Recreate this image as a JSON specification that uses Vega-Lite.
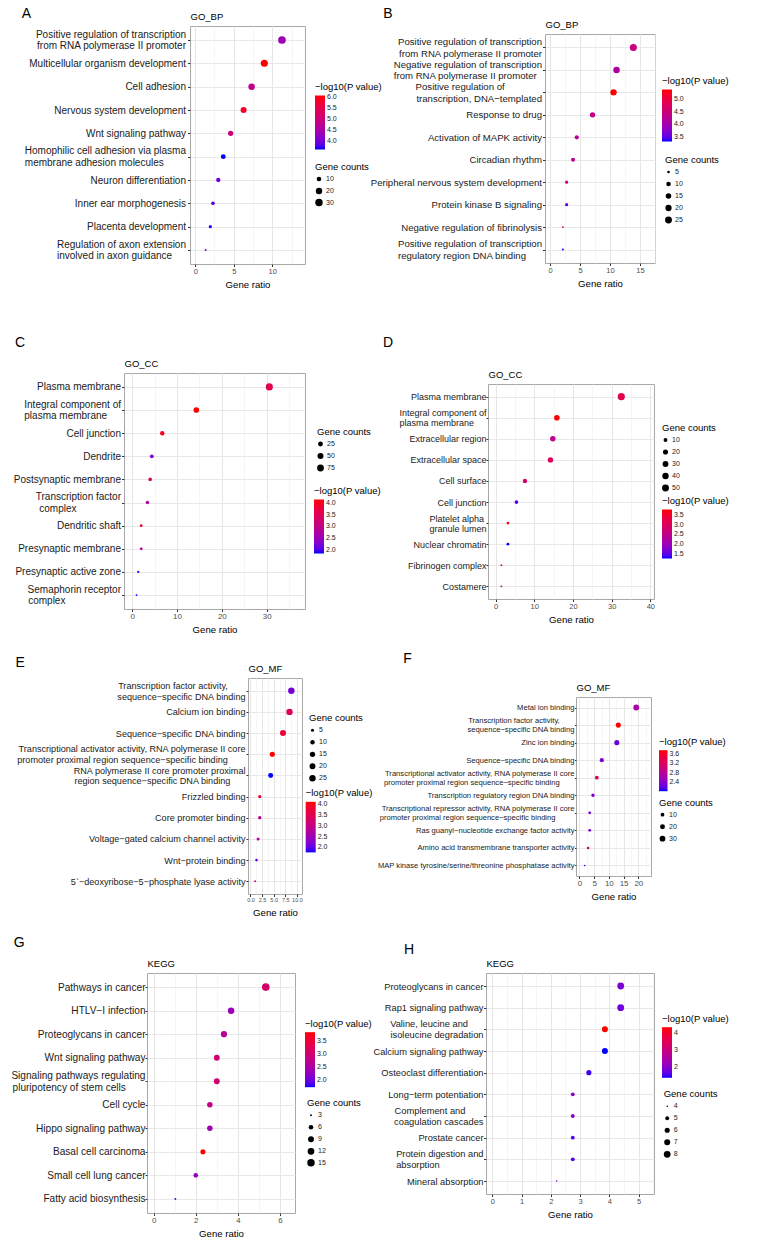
{
"$schema": "https://vega.github.io/schema/vega-lite/v6.json",
"padding": {"left": 0, "top": 6, "right": 0, "bottom": 0},
"spacing": 0,
"bounds": "flush",
"resolve": {"scale": {"color": "independent", "size": "independent", "x": "independent", "y": "independent"}, "legend": {"color": "independent", "size": "independent"}},
"vconcat": [
{
"hconcat": [
{"width": 190, "height": 1, "data": {"values": []}, "mark": "point", "view": {"stroke": null}},
{
"width": 115, "height": 238,
"title": {"text": "A", "offset": -9.5, "dx": -2.6},
"data": {"values": [
{"term": "Positive regulation of transcription\nfrom RNA polymerase II promoter", "ratio": 11.26, "p": 4.35, "count": 33},
{"term": "Multicellular organism development", "ratio": 8.97, "p": 6.05, "count": 26},
{"term": "Cell adhesion", "ratio": 7.32, "p": 4.75, "count": 21},
{"term": "Nervous system development", "ratio": 6.28, "p": 5.8, "count": 18},
{"term": "Wnt signaling pathway", "ratio": 4.6, "p": 5.0, "count": 13},
{"term": "Homophilic cell adhesion via plasma\nmembrane adhesion molecules\u00a0\u00a0\u00a0\u00a0\u00a0\u00a0\u00a0\u00a0\u200b", "ratio": 3.64, "p": 3.6, "count": 11},
{"term": "Neuron differentiation", "ratio": 2.99, "p": 3.9, "count": 9},
{"term": "Inner ear morphogenesis", "ratio": 2.3, "p": 3.8, "count": 7},
{"term": "Placenta development", "ratio": 1.96, "p": 3.65, "count": 6},
{"term": "Regulation of axon extension\ninvolved in axon guidance\u00a0\u00a0\u00a0\u00a0\u00a0\u200b", "ratio": 1.35, "p": 4.0, "count": 4}
]},
"mark": {"type": "circle", "opacity": 1},
"encoding": {
"x": {"field": "ratio", "type": "quantitative", "scale": {"domain": [-0.68, 14.25], "nice": false, "zero": false},
"axis": {"title": "Gene ratio", "values": [0, 2.5, 5, 7.5, 10, 12.5], "labelExpr": "datum.value % 5 === 0 ? format(datum.value, 'd') : ''", "tickOpacity": {"condition": {"test": "datum.value % 5 === 0", "value": 1}, "value": 0}, "gridColor": {"condition": {"test": "datum.value % 5 === 0", "value": "#e3e3e3"}, "value": "#f0f0f0"}, "gridWidth": {"condition": {"test": "datum.value % 5 === 0", "value": 0.9}, "value": 0.6}, "labelFontSize": 7.5}},
"y": {"field": "term", "type": "nominal", "sort": null, "scale": {"type": "point", "padding": 0.6},
"axis": {"title": "GO_BP", "titleX": 0, "titleY": -6.5, "labelExpr": "split(datum.label, '\\n')", "labelOffset": {"condition": {"test": "indexof(datum.value, '\\n') >= 0", "value": -5.85}, "value": 0}, "labelFontSize": 10, "labelLineHeight": 11.7, "labelPadding": 2, "tickSize": 2.5}},
"color": {"field": "p", "type": "quantitative", "scale": {"domain": [3.6, 6.05], "range": ["#0000ff", "#ff0000"], "interpolate": "lab"},
"legend": {"orient": "none", "title": "−log10(P value)", "legendX": 125, "legendY": 56, "values": [4, 4.5, 5, 5.5, 6], "format": ".1f", "gradientLength": 54}},
"size": {"field": "count", "type": "quantitative", "scale": {"type": "sqrt", "domain": [4, 33], "range": [3.8, 59.4], "zero": false},
"legend": {"orient": "none", "title": "Gene counts", "legendX": 125, "legendY": 136, "values": [10, 20, 30], "format": "d"}}
}
},
{"width": 240, "height": 1, "data": {"values": []}, "mark": "point", "view": {"stroke": null}},
{
"vconcat": [
{"width": 1, "height": 8, "data": {"values": []}, "mark": "point", "view": {"stroke": null}},
{
"width": 110, "height": 229,
"title": {"text": "B", "offset": -1.5, "dx": 12.8},
"data": {"values": [
{"term": "Positive regulation of transcription\nfrom RNA polymerase II promoter", "ratio": 13.9, "p": 4.45, "count": 27},
{"term": "Negative regulation of transcription\nfrom RNA polymerase II promoter\u00a0\u00a0\u200b", "ratio": 11.1, "p": 4.1, "count": 22},
{"term": "Positive regulation of\u00a0\u00a0\u00a0\u00a0\u00a0\u00a0\u00a0\u00a0\u00a0\u00a0\u00a0\u00a0\u00a0\u00a0\u200b\ntranscription, DNA−templated", "ratio": 10.6, "p": 5.38, "count": 21},
{"term": "Response to drug", "ratio": 7.1, "p": 4.4, "count": 14},
{"term": "Activation of MAPK activity", "ratio": 4.47, "p": 4.2, "count": 9},
{"term": "Circadian rhythm", "ratio": 3.85, "p": 4.25, "count": 8},
{"term": "Peripheral nervous system development", "ratio": 2.78, "p": 4.4, "count": 6},
{"term": "Protein kinase B signaling", "ratio": 2.78, "p": 3.5, "count": 6},
{"term": "Negative regulation of fibrinolysis", "ratio": 2.15, "p": 4.5, "count": 4},
{"term": "Positive regulation of transcription\nregulatory region DNA binding\u00a0\u00a0\u00a0\u00a0\u00a0\u00a0\u200b", "ratio": 2.15, "p": 3.3, "count": 4}
]},
"mark": {"type": "circle", "opacity": 1},
"encoding": {
"x": {"field": "ratio", "type": "quantitative", "scale": {"domain": [-0.83, 17.51], "nice": false, "zero": false},
"axis": {"title": "Gene ratio", "values": [0, 2.5, 5, 7.5, 10, 12.5, 15, 17.5], "labelExpr": "datum.value % 5 === 0 ? format(datum.value, 'd') : ''", "tickOpacity": {"condition": {"test": "datum.value % 5 === 0", "value": 1}, "value": 0}, "gridColor": {"condition": {"test": "datum.value % 5 === 0", "value": "#e3e3e3"}, "value": "#f0f0f0"}, "gridWidth": {"condition": {"test": "datum.value % 5 === 0", "value": 0.9}, "value": 0.6}, "labelFontSize": 7.5}},
"y": {"field": "term", "type": "nominal", "sort": null, "scale": {"type": "point", "padding": 0.6},
"axis": {"title": "GO_BP", "titleX": 0, "titleY": -6.5, "labelExpr": "split(datum.label, '\\n')", "labelOffset": {"condition": {"test": "indexof(datum.value, '\\n') >= 0", "value": -5.85}, "value": 0}, "labelFontSize": 9.6, "labelLineHeight": 11.7, "labelPadding": 1, "tickSize": 2.5}},
"color": {"field": "p", "type": "quantitative", "scale": {"domain": [3.3, 5.38], "range": ["#0000ff", "#ff0000"], "interpolate": "lab"},
"legend": {"orient": "none", "title": "−log10(P value)", "legendX": 117, "legendY": 42, "values": [3.5, 4, 4.5, 5], "format": ".1f", "gradientLength": 52}},
"size": {"field": "count", "type": "quantitative", "scale": {"type": "sqrt", "domain": [4, 27], "range": [3.5, 50], "zero": false},
"legend": {"orient": "none", "title": "Gene counts", "legendX": 120, "legendY": 121, "values": [5, 10, 15, 20, 25], "format": "d"}}
}
}
],
"spacing": 0, "bounds": "flush",
"resolve": {"scale": {"color": "independent", "size": "independent", "x": "independent", "y": "independent"}, "legend": {"color": "independent", "size": "independent"}}
}
],
"spacing": 0, "bounds": "flush",
"resolve": {"scale": {"color": "independent", "size": "independent", "x": "independent", "y": "independent"}, "legend": {"color": "independent", "size": "independent"}}
},
{"width": 1, "height": 347, "data": {"values": []}, "mark": "point", "view": {"stroke": null}},
{
"hconcat": [
{"width": 124, "height": 1, "data": {"values": []}, "mark": "point", "view": {"stroke": null}},
{
"width": 181, "height": 236,
"title": {"text": "C", "offset": 8.5, "dx": 1.8},
"data": {"values": [
{"term": "Plasma membrane", "ratio": 30.6, "p": 3.55, "count": 86},
{"term": "Integral component of\nplasma membrane\u00a0\u00a0\u00a0\u00a0\u00a0\u200b", "ratio": 14.3, "p": 4.15, "count": 40},
{"term": "Cell junction", "ratio": 6.7, "p": 3.95, "count": 19},
{"term": "Dendrite", "ratio": 4.37, "p": 2.2, "count": 12},
{"term": "Postsynaptic membrane", "ratio": 4.0, "p": 3.4, "count": 11},
{"term": "Transcription factor\ncomplex\u00a0\u00a0\u00a0\u00a0\u00a0\u00a0\u00a0\u00a0\u00a0\u00a0\u00a0\u00a0\u00a0\u00a0\u00a0\u00a0\u200b", "ratio": 3.4, "p": 2.8, "count": 10},
{"term": "Dendritic shaft", "ratio": 2.0, "p": 3.85, "count": 6},
{"term": "Presynaptic membrane", "ratio": 2.0, "p": 2.8, "count": 6},
{"term": "Presynaptic active zone", "ratio": 1.34, "p": 1.9, "count": 4},
{"term": "Semaphorin receptor\ncomplex\u00a0\u00a0\u00a0\u00a0\u00a0\u00a0\u00a0\u00a0\u00a0\u00a0\u00a0\u00a0\u00a0\u00a0\u00a0\u00a0\u00a0\u00a0\u00a0\u00a0\u200b", "ratio": 0.96, "p": 1.83, "count": 3}
]},
"mark": {"type": "circle", "opacity": 1},
"encoding": {
"x": {"field": "ratio", "type": "quantitative", "scale": {"domain": [-1.84, 38.56], "nice": false, "zero": false},
"axis": {"title": "Gene ratio", "values": [0, 5, 10, 15, 20, 25, 30, 35], "labelExpr": "datum.value % 10 === 0 ? format(datum.value, 'd') : ''", "tickOpacity": {"condition": {"test": "datum.value % 10 === 0", "value": 1}, "value": 0}, "gridColor": {"condition": {"test": "datum.value % 10 === 0", "value": "#e3e3e3"}, "value": "#f0f0f0"}, "gridWidth": {"condition": {"test": "datum.value % 10 === 0", "value": 0.9}, "value": 0.6}, "labelFontSize": 8}},
"y": {"field": "term", "type": "nominal", "sort": null, "scale": {"type": "point", "padding": 0.6},
"axis": {"title": "GO_CC", "titleX": 0, "titleY": -6.5, "labelExpr": "split(datum.label, '\\n')", "labelOffset": {"condition": {"test": "indexof(datum.value, '\\n') >= 0", "value": -5.85}, "value": 0}, "labelFontSize": 10, "labelLineHeight": 11.7, "labelPadding": 1, "tickSize": 2.5}},
"color": {"field": "p", "type": "quantitative", "scale": {"domain": [1.83, 4.15], "range": ["#0000ff", "#ff0000"], "interpolate": "lab"},
"legend": {"orient": "none", "title": "−log10(P value)", "legendX": 190, "legendY": 113, "values": [2, 2.5, 3, 3.5, 4], "format": ".1f", "gradientLength": 54}},
"size": {"field": "count", "type": "quantitative", "scale": {"type": "sqrt", "domain": [3, 86], "range": [3.5, 50], "zero": false},
"legend": {"orient": "none", "title": "Gene counts", "legendX": 193, "legendY": 54, "values": [25, 50, 75], "format": "d"}}
}
},
{"width": 183, "height": 1, "data": {"values": []}, "mark": "point", "view": {"stroke": null}},
{
"vconcat": [
{"width": 1, "height": 11, "data": {"values": []}, "mark": "point", "view": {"stroke": null}},
{
"width": 166, "height": 215,
"title": {"text": "D", "offset": 19.5, "dx": -16},
"data": {"values": [
{"term": "Plasma membrane", "ratio": 32.5, "p": 3.2, "count": 55},
{"term": "Integral component of\nplasma membrane\u00a0\u00a0\u00a0\u00a0\u00a0\u200b", "ratio": 15.85, "p": 3.8, "count": 27},
{"term": "Extracellular region", "ratio": 14.8, "p": 2.5, "count": 25},
{"term": "Extracellular space", "ratio": 14.2, "p": 3.05, "count": 24},
{"term": "Cell surface", "ratio": 7.6, "p": 2.85, "count": 13},
{"term": "Cell junction", "ratio": 5.4, "p": 1.45, "count": 9},
{"term": "Platelet alpha\u00a0\u200b\ngranule lumen", "ratio": 3.2, "p": 3.7, "count": 5},
{"term": "Nuclear chromatin", "ratio": 3.2, "p": 1.25, "count": 5},
{"term": "Fibrinogen complex", "ratio": 1.5, "p": 2.9, "count": 3},
{"term": "Costamere", "ratio": 1.5, "p": 2.3, "count": 3}
]},
"mark": {"type": "circle", "opacity": 1},
"encoding": {
"x": {"field": "ratio", "type": "quantitative", "scale": {"domain": [-1.95, 40.95], "nice": false, "zero": false},
"axis": {"title": "Gene ratio", "values": [0, 5, 10, 15, 20, 25, 30, 35, 40], "labelExpr": "datum.value % 10 === 0 ? format(datum.value, 'd') : ''", "tickOpacity": {"condition": {"test": "datum.value % 10 === 0", "value": 1}, "value": 0}, "gridColor": {"condition": {"test": "datum.value % 10 === 0", "value": "#e3e3e3"}, "value": "#f0f0f0"}, "gridWidth": {"condition": {"test": "datum.value % 10 === 0", "value": 0.9}, "value": 0.6}, "labelFontSize": 7.5}},
"y": {"field": "term", "type": "nominal", "sort": null, "scale": {"type": "point", "padding": 0.6},
"axis": {"title": "GO_CC", "titleX": 0, "titleY": -6.5, "labelExpr": "split(datum.label, '\\n')", "labelOffset": {"condition": {"test": "indexof(datum.value, '\\n') >= 0", "value": -5}, "value": 0}, "labelFontSize": 9, "labelLineHeight": 10, "labelPadding": 0, "tickSize": 2}},
"color": {"field": "p", "type": "quantitative", "scale": {"domain": [1.25, 3.8], "range": ["#0000ff", "#ff0000"], "interpolate": "lab"},
"legend": {"orient": "none", "title": "−log10(P value)", "legendX": 174, "legendY": 112, "values": [1.5, 2, 2.5, 3, 3.5], "format": ".1f", "gradientLength": 49}},
"size": {"field": "count", "type": "quantitative", "scale": {"type": "sqrt", "domain": [3, 55], "range": [3.5, 50], "zero": false},
"legend": {"orient": "none", "title": "Gene counts", "legendX": 174, "legendY": 39, "values": [10, 20, 30, 40, 50], "format": "d"}}
}
}
],
"spacing": 0, "bounds": "flush",
"resolve": {"scale": {"color": "independent", "size": "independent", "x": "independent", "y": "independent"}, "legend": {"color": "independent", "size": "independent"}}
}
],
"spacing": 0, "bounds": "flush",
"resolve": {"scale": {"color": "independent", "size": "independent", "x": "independent", "y": "independent"}, "legend": {"color": "independent", "size": "independent"}}
},
{"width": 1, "height": 305, "data": {"values": []}, "mark": "point", "view": {"stroke": null}},
{
"hconcat": [
{"width": 248, "height": 1, "data": {"values": []}, "mark": "point", "view": {"stroke": null}},
{
"width": 54, "height": 216,
"title": {"text": "E", "offset": -6.5, "dx": -1.4},
"data": {"values": [
{"term": "Transcription factor activity,\u00a0\u00a0\u00a0\u00a0\u00a0\u00a0\u00a0\u200b\nsequence−specific DNA binding", "ratio": 8.8, "p": 2.15, "count": 26},
{"term": "Calcium ion binding", "ratio": 8.4, "p": 3.45, "count": 25},
{"term": "Sequence−specific DNA binding", "ratio": 7.0, "p": 3.75, "count": 21},
{"term": "Transcriptional activator activity, RNA polymerase II core\npromoter proximal region sequence−specific binding\u00a0\u00a0\u00a0\u00a0\u00a0\u00a0\u00a0\u200b", "ratio": 4.7, "p": 4.12, "count": 14},
{"term": "RNA polymerase II core promoter proximal\nregion sequence−specific DNA binding\u00a0\u00a0\u00a0\u00a0\u00a0\u00a0\u200b", "ratio": 4.35, "p": 1.77, "count": 13},
{"term": "Frizzled binding", "ratio": 2.0, "p": 3.75, "count": 6},
{"term": "Core promoter binding", "ratio": 2.0, "p": 2.75, "count": 6},
{"term": "Voltage−gated calcium channel activity", "ratio": 1.65, "p": 2.8, "count": 5},
{"term": "Wnt−protein binding", "ratio": 1.3, "p": 1.95, "count": 4},
{"term": "5`−deoxyribose−5−phosphate lyase activity", "ratio": 1.0, "p": 3.05, "count": 3}
]},
"mark": {"type": "circle", "opacity": 1},
"encoding": {
"x": {"field": "ratio", "type": "quantitative", "scale": {"domain": [-0.53, 11.09], "nice": false, "zero": false},
"axis": {"title": "Gene ratio", "values": [0, 1.25, 2.5, 3.75, 5, 6.25, 7.5, 8.75, 10], "labelExpr": "datum.value % 2.5 === 0 ? format(datum.value, '.1f') : ''", "tickOpacity": {"condition": {"test": "datum.value % 2.5 === 0", "value": 1}, "value": 0}, "gridColor": {"condition": {"test": "datum.value % 2.5 === 0", "value": "#e3e3e3"}, "value": "#f0f0f0"}, "gridWidth": {"condition": {"test": "datum.value % 2.5 === 0", "value": 0.9}, "value": 0.6}, "labelFontSize": 5.5}},
"y": {"field": "term", "type": "nominal", "sort": null, "scale": {"type": "point", "padding": 0.6},
"axis": {"title": "GO_MF", "titleX": 0, "titleY": -6.5, "labelExpr": "split(datum.label, '\\n')", "labelOffset": {"condition": {"test": "indexof(datum.value, '\\n') >= 0", "value": -5.35}, "value": 0}, "labelFontSize": 9.1, "labelLineHeight": 10.7, "labelPadding": 1, "tickSize": 2}},
"color": {"field": "p", "type": "quantitative", "scale": {"domain": [1.77, 4.12], "range": ["#0000ff", "#ff0000"], "interpolate": "lab"},
"legend": {"orient": "none", "title": "−log10(P value)", "legendX": 57.7, "legendY": 110.3, "values": [2, 2.5, 3, 3.5, 4], "format": ".1f", "gradientLength": 50.6}},
"size": {"field": "count", "type": "quantitative", "scale": {"type": "sqrt", "domain": [3, 26], "range": [3.5, 42], "zero": false},
"legend": {"orient": "none", "title": "Gene counts", "legendX": 61, "legendY": 35.3, "values": [5, 10, 15, 20, 25], "format": "d"}}
}
},
{"width": 274, "height": 1, "data": {"values": []}, "mark": "point", "view": {"stroke": null}},
{
"vconcat": [
{"width": 1, "height": 19, "data": {"values": []}, "mark": "point", "view": {"stroke": null}},
{
"width": 75, "height": 179,
"title": {"text": "F", "offset": 16.8, "dx": 26},
"data": {"values": [
{"term": "Metal ion binding", "ratio": 19.3, "p": 2.65, "count": 33},
{"term": "Transcription factor activity,\u00a0\u00a0\u00a0\u00a0\u00a0\u00a0\u00a0\u200b\nsequence−specific DNA binding", "ratio": 13.2, "p": 3.76, "count": 22},
{"term": "Zinc ion binding", "ratio": 12.7, "p": 2.2, "count": 21},
{"term": "Sequence−specific DNA binding", "ratio": 7.6, "p": 2.3, "count": 13},
{"term": "Transcriptional activator activity, RNA polymerase II core\npromoter proximal region sequence−specific binding\u00a0\u00a0\u00a0\u00a0\u00a0\u00a0\u00a0\u200b", "ratio": 5.9, "p": 3.35, "count": 10},
{"term": "Transcription regulatory region DNA binding", "ratio": 4.6, "p": 2.3, "count": 8},
{"term": "Transcriptional repressor activity, RNA polymerase II core\npromoter proximal region sequence−specific binding\u00a0\u00a0\u00a0\u00a0\u00a0\u00a0\u00a0\u00a0\u00a0\u200b", "ratio": 3.5, "p": 2.3, "count": 6},
{"term": "Ras guanyl−nucleotide exchange factor activity", "ratio": 3.5, "p": 2.3, "count": 6},
{"term": "Amino acid transmembrane transporter activity", "ratio": 2.95, "p": 3.0, "count": 5},
{"term": "MAP kinase tyrosine/serine/threonine phosphatase activity", "ratio": 1.8, "p": 2.0, "count": 3}
]},
"mark": {"type": "circle", "opacity": 1},
"encoding": {
"x": {"field": "ratio", "type": "quantitative", "scale": {"domain": [-1.16, 24.3], "nice": false, "zero": false},
"axis": {"title": "Gene ratio", "values": [0, 2.5, 5, 7.5, 10, 12.5, 15, 17.5, 20, 22.5], "labelExpr": "datum.value % 5 === 0 ? format(datum.value, 'd') : ''", "tickOpacity": {"condition": {"test": "datum.value % 5 === 0", "value": 1}, "value": 0}, "gridColor": {"condition": {"test": "datum.value % 5 === 0", "value": "#e3e3e3"}, "value": "#f0f0f0"}, "gridWidth": {"condition": {"test": "datum.value % 5 === 0", "value": 0.9}, "value": 0.6}, "labelFontSize": 8}},
"y": {"field": "term", "type": "nominal", "sort": null, "scale": {"type": "point", "padding": 0.6},
"axis": {"title": "GO_MF", "titleX": 0, "titleY": -6.5, "labelExpr": "split(datum.label, '\\n')", "labelOffset": {"condition": {"test": "indexof(datum.value, '\\n') >= 0", "value": -4.5}, "value": 0}, "labelFontSize": 7.6, "labelLineHeight": 9, "labelPadding": 0.5, "tickSize": 1.5}},
"color": {"field": "p", "type": "quantitative", "scale": {"domain": [2.0, 3.76], "range": ["#0000ff", "#ff0000"], "interpolate": "lab"},
"legend": {"orient": "none", "title": "−log10(P value)", "legendX": 83, "legendY": 39.7, "values": [2.4, 2.8, 3.2, 3.6], "format": ".1f", "gradientLength": 41, "gradientThickness": 8.5}},
"size": {"field": "count", "type": "quantitative", "scale": {"type": "sqrt", "domain": [3, 33], "range": [2.5, 35], "zero": false},
"legend": {"orient": "none", "title": "Gene counts", "legendX": 83, "legendY": 100.7, "values": [10, 20, 30], "format": "d"}}
}
}
],
"spacing": 0, "bounds": "flush",
"resolve": {"scale": {"color": "independent", "size": "independent", "x": "independent", "y": "independent"}, "legend": {"color": "independent", "size": "independent"}}
}
],
"spacing": 0, "bounds": "flush",
"resolve": {"scale": {"color": "independent", "size": "independent", "x": "independent", "y": "independent"}, "legend": {"color": "independent", "size": "independent"}}
},
{"width": 1, "height": 295, "data": {"values": []}, "mark": "point", "view": {"stroke": null}},
{
"hconcat": [
{"width": 147, "height": 1, "data": {"values": []}, "mark": "point", "view": {"stroke": null}},
{
"width": 148, "height": 240,
"title": {"text": "G", "offset": 8.5, "dx": 2.8},
"data": {"values": [
{"term": "Pathways in cancer", "ratio": 5.33, "p": 3.05, "count": 16},
{"term": "HTLV−I infection", "ratio": 3.68, "p": 2.35, "count": 11},
{"term": "Proteoglycans in cancer", "ratio": 3.34, "p": 2.65, "count": 10},
{"term": "Wnt signaling pathway", "ratio": 3.0, "p": 3.0, "count": 9},
{"term": "Signaling pathways regulating\npluripotency of stem cells\u00a0\u00a0\u00a0\u00a0\u00a0\u00a0\u00a0\u200b", "ratio": 3.0, "p": 3.0, "count": 9},
{"term": "Cell cycle", "ratio": 2.67, "p": 2.8, "count": 8},
{"term": "Hippo signaling pathway", "ratio": 2.67, "p": 2.4, "count": 8},
{"term": "Basal cell carcinoma", "ratio": 2.34, "p": 3.84, "count": 7},
{"term": "Small cell lung cancer", "ratio": 2.0, "p": 2.3, "count": 6},
{"term": "Fatty acid biosynthesis", "ratio": 1.03, "p": 1.74, "count": 3}
]},
"mark": {"type": "circle", "opacity": 1},
"encoding": {
"x": {"field": "ratio", "type": "quantitative", "scale": {"domain": [-0.32, 6.72], "nice": false, "zero": false},
"axis": {"title": "Gene ratio", "values": [0, 1, 2, 3, 4, 5, 6], "labelExpr": "datum.value % 2 === 0 ? format(datum.value, 'd') : ''", "tickOpacity": {"condition": {"test": "datum.value % 2 === 0", "value": 1}, "value": 0}, "gridColor": {"condition": {"test": "datum.value % 2 === 0", "value": "#e3e3e3"}, "value": "#f0f0f0"}, "gridWidth": {"condition": {"test": "datum.value % 2 === 0", "value": 0.9}, "value": 0.6}, "labelFontSize": 7.8}},
"y": {"field": "term", "type": "nominal", "sort": null, "scale": {"type": "point", "padding": 0.6},
"axis": {"title": "KEGG", "titleX": 0, "titleY": -6.5, "labelExpr": "split(datum.label, '\\n')", "labelOffset": {"condition": {"test": "indexof(datum.value, '\\n') >= 0", "value": -6}, "value": 0}, "labelFontSize": 10.1, "labelLineHeight": 12, "labelPadding": 0, "tickSize": 2}},
"color": {"field": "p", "type": "quantitative", "scale": {"domain": [1.74, 3.84], "range": ["#0000ff", "#ff0000"], "interpolate": "lab"},
"legend": {"orient": "none", "title": "−log10(P value)", "legendX": 158, "legendY": 45.7, "values": [2, 2.5, 3, 3.5], "format": ".1f", "gradientLength": 55}},
"size": {"field": "count", "type": "quantitative", "scale": {"type": "sqrt", "domain": [3, 16], "range": [3.5, 59], "zero": false},
"legend": {"orient": "none", "title": "Gene counts", "legendX": 160, "legendY": 125.3, "values": [3, 6, 9, 12, 15], "format": "d"}}
}
},
{"width": 191, "height": 1, "data": {"values": []}, "mark": "point", "view": {"stroke": null}},
{
"width": 168, "height": 221,
"title": {"text": "H", "offset": 1.8, "dx": 31},
"data": {"values": [
{"term": "Proteoglycans in cancer", "ratio": 4.39, "p": 1.9, "count": 8},
{"term": "Rap1 signaling pathway", "ratio": 4.39, "p": 1.8, "count": 8},
{"term": "Valine, leucine and\u00a0\u00a0\u00a0\u00a0\u00a0\u00a0\u200b\nisoleucine degradation", "ratio": 3.85, "p": 4.35, "count": 7},
{"term": "Calcium signaling pathway", "ratio": 3.85, "p": 1.38, "count": 7},
{"term": "Osteoclast differentiation", "ratio": 3.3, "p": 1.5, "count": 6},
{"term": "Long−term potentiation", "ratio": 2.75, "p": 2.05, "count": 5},
{"term": "Complement and\u00a0\u00a0\u00a0\u00a0\u00a0\u00a0\u00a0\u200b\ncoagulation cascades", "ratio": 2.75, "p": 2.05, "count": 5},
{"term": "Prostate cancer", "ratio": 2.75, "p": 1.6, "count": 5},
{"term": "Protein digestion and\nabsorption\u00a0\u00a0\u00a0\u00a0\u00a0\u00a0\u00a0\u00a0\u00a0\u00a0\u00a0\u00a0\u00a0\u00a0\u00a0\u00a0\u00a0\u200b", "ratio": 2.75, "p": 1.6, "count": 5},
{"term": "Mineral absorption", "ratio": 2.2, "p": 2.0, "count": 4}
]},
"mark": {"type": "circle", "opacity": 1},
"encoding": {
"x": {"field": "ratio", "type": "quantitative", "scale": {"domain": [-0.22, 5.53], "nice": false, "zero": false},
"axis": {"title": "Gene ratio", "values": [0, 0.5, 1, 1.5, 2, 2.5, 3, 3.5, 4, 4.5, 5, 5.5], "labelExpr": "datum.value % 1 === 0 ? format(datum.value, 'd') : ''", "tickOpacity": {"condition": {"test": "datum.value % 1 === 0", "value": 1}, "value": 0}, "gridColor": {"condition": {"test": "datum.value % 1 === 0", "value": "#e3e3e3"}, "value": "#f0f0f0"}, "gridWidth": {"condition": {"test": "datum.value % 1 === 0", "value": 0.9}, "value": 0.6}, "labelFontSize": 7.5}},
"y": {"field": "term", "type": "nominal", "sort": null, "scale": {"type": "point", "padding": 0.6},
"axis": {"title": "KEGG", "titleX": 0, "titleY": -6.5, "labelExpr": "split(datum.label, '\\n')", "labelOffset": {"condition": {"test": "indexof(datum.value, '\\n') >= 0", "value": -5.5}, "value": 0}, "labelFontSize": 9.3, "labelLineHeight": 11, "labelPadding": 0.5, "tickSize": 2.5}},
"color": {"field": "p", "type": "quantitative", "scale": {"domain": [1.38, 4.35], "range": ["#0000ff", "#ff0000"], "interpolate": "lab"},
"legend": {"orient": "none", "title": "−log10(P value)", "legendX": 176, "legendY": 40.7, "values": [2, 3, 4], "format": "d", "gradientLength": 50.6}},
"size": {"field": "count", "type": "quantitative", "scale": {"type": "sqrt", "domain": [4, 8], "range": [2.5, 46], "zero": false},
"legend": {"orient": "none", "title": "Gene counts", "legendX": 177.7, "legendY": 116.3, "values": [4, 5, 6, 7, 8], "format": "d"}}
}
}
],
"spacing": 0, "bounds": "flush",
"resolve": {"scale": {"color": "independent", "size": "independent", "x": "independent", "y": "independent"}, "legend": {"color": "independent", "size": "independent"}}
}
],
"config": {
"font": "Liberation Sans",
"background": "white",
"view": {"stroke": "#a8a8a8", "strokeWidth": 1},
"title": {"fontSize": 14, "fontWeight": "normal", "color": "#000000", "anchor": "start", "frame": "bounds"},
"axisX": {"titleFontSize": 9.6, "titleFontWeight": "normal", "titleColor": "#000000", "titlePadding": 4.5, "labelColor": "#4d4d4d", "labelPadding": 0.5, "tickSize": 2.5, "tickColor": "#333333", "labelFlush": false, "labelOverlap": false, "labelBound": false, "domain": false, "grid": true},
"axisY": {"titleAngle": 0, "titleAlign": "left", "titleBaseline": "alphabetic", "titleFontSize": 9.5, "titleFontWeight": "normal", "titleColor": "#000000", "labelColor": "#1a1a1a", "labelOverlap": false, "labelLimit": 400, "tickColor": "#333333", "grid": true, "gridColor": "#e6e6e6", "gridWidth": 0.9, "domain": false},
"legend": {"titleFontSize": 9.5, "titleFontWeight": "normal", "titleColor": "#000000", "labelColor": "#1a1a1a", "labelFontSize": 7, "gradientThickness": 10, "labelOverlap": false, "titlePadding": 4, "symbolFillColor": "#000000", "symbolStrokeWidth": 0, "symbolType": "circle", "symbolOpacity": 1, "rowPadding": 4, "labelOffset": 3, "gradientStrokeWidth": 0}
}
}
